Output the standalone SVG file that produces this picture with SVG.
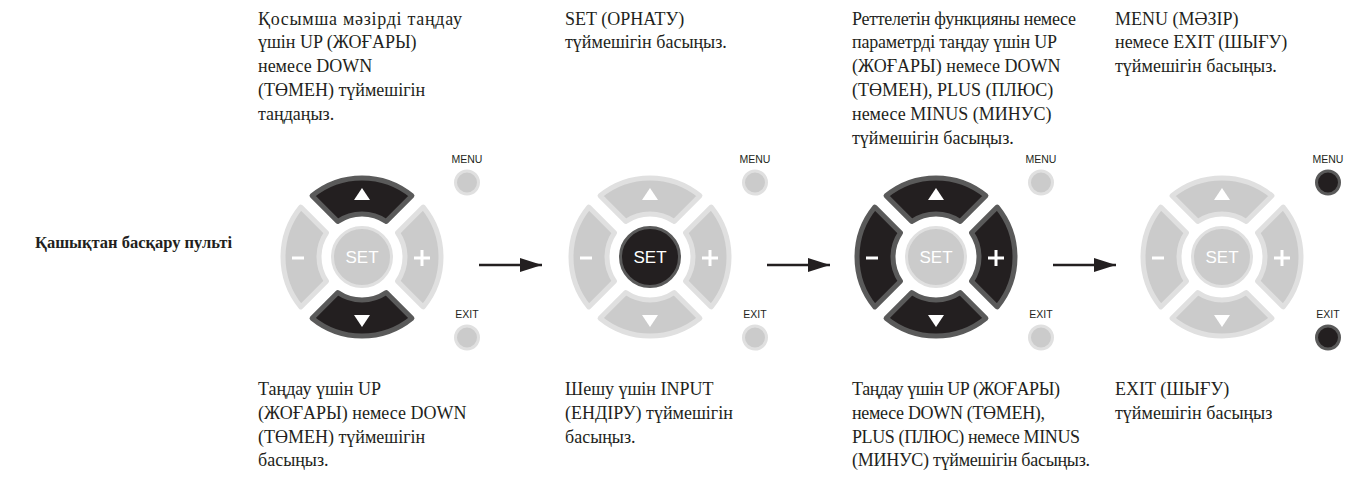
<svg xmlns="http://www.w3.org/2000/svg" xmlns:xlink="http://www.w3.org/1999/xlink" width="1346" height="477" viewBox="0 0 1346 477">
<style>
.txt{font-family:"Liberation Serif","DejaVu Serif",serif;font-size:18px;fill:#231f20}
.lbl{font-family:"Liberation Serif","DejaVu Serif",serif;font-size:16.5px;font-weight:bold;fill:#231f20}
.small{font-family:"Liberation Sans",Arial,sans-serif;font-size:10.5px;fill:#231f20;text-anchor:middle}
.setT{font-family:"Liberation Sans",Arial,sans-serif;font-size:17px;fill:#fff;text-anchor:middle}
.gb{fill:#cbcbcb;stroke:#e0e0e0;stroke-width:5;stroke-linejoin:round}
.bb{fill:#231f20;stroke:#5a5a5a;stroke-width:5;stroke-linejoin:round}
.gs{fill:#cbcbcb;stroke:#e0e0e0;stroke-width:3}
.bs{fill:#231f20;stroke:#5a5a5a;stroke-width:3}
.sym{stroke:#fff;stroke-width:3;fill:none}
.tri{fill:#fff}
.conn{stroke:#231f20;stroke-width:2.6;fill:none;marker-end:url(#ah)}
</style>
<defs>
<path id="pu" d="M-49.92,-61.23A79,79 0 0 1 49.92,-61.23L24.22,-35.53A43,43 0 0 0 -24.22,-35.53Z"/>
<path id="pr" d="M61.23,-49.92A79,79 0 0 1 61.23,49.92L35.53,24.22A43,43 0 0 0 35.53,-24.22Z"/>
<path id="pd" d="M49.92,61.23A79,79 0 0 1 -49.92,61.23L-24.22,35.53A43,43 0 0 0 24.22,35.53Z"/>
<path id="pl" d="M-61.23,49.92A79,79 0 0 1 -61.23,-49.92L-35.53,-24.22A43,43 0 0 0 -35.53,24.22Z"/>
<g id="glyphs">
<polygon class="tri" points="-8,-57 8,-57 0,-69"/>
<polygon class="tri" points="-8,58 8,58 0,70"/>
<path class="sym" d="M52,1H68M60,-7V9"/>
<path class="sym" d="M-70,1H-58"/>
</g>
<marker id="ah" markerUnits="userSpaceOnUse" markerWidth="24" markerHeight="16" refX="22" refY="7" orient="auto">
<polygon points="0,0 22,7 0,14" fill="#231f20"/>
</marker>
</defs>

<g id="label-remote"><text class="lbl" x="232" y="248" text-anchor="end">Қашықтан басқару пульті</text></g>

<g id="remote1" transform="translate(362,257)">
<use xlink:href="#pu" class="bb"/><use xlink:href="#pd" class="bb"/>
<use xlink:href="#pl" class="gb"/><use xlink:href="#pr" class="gb"/>
<circle r="29.5" class="gs"/><text class="setT" x="0" y="6">SET</text>
<use xlink:href="#glyphs"/>
<text class="small" x="105" y="-94">MENU</text><circle cx="105" cy="-74.5" r="11.5" class="gs"/>
<text class="small" x="105" y="61">EXIT</text><circle cx="105" cy="80.5" r="11.5" class="gs"/>
</g>
<g id="remote2" transform="translate(650,257)">
<use xlink:href="#pu" class="gb"/><use xlink:href="#pd" class="gb"/>
<use xlink:href="#pl" class="gb"/><use xlink:href="#pr" class="gb"/>
<circle r="29.5" class="bs"/><text class="setT" x="0" y="6">SET</text>
<use xlink:href="#glyphs"/>
<text class="small" x="105" y="-94">MENU</text><circle cx="105" cy="-74.5" r="11.5" class="gs"/>
<text class="small" x="105" y="61">EXIT</text><circle cx="105" cy="80.5" r="11.5" class="gs"/>
</g>
<g id="remote3" transform="translate(936,257)">
<use xlink:href="#pu" class="bb"/><use xlink:href="#pd" class="bb"/>
<use xlink:href="#pl" class="bb"/><use xlink:href="#pr" class="bb"/>
<circle r="29.5" class="gs"/><text class="setT" x="0" y="6">SET</text>
<use xlink:href="#glyphs"/>
<text class="small" x="105" y="-94">MENU</text><circle cx="105" cy="-74.5" r="11.5" class="gs"/>
<text class="small" x="105" y="61">EXIT</text><circle cx="105" cy="80.5" r="11.5" class="gs"/>
</g>
<g id="remote4" transform="translate(1222,257)">
<use xlink:href="#pu" class="gb"/><use xlink:href="#pd" class="gb"/>
<use xlink:href="#pl" class="gb"/><use xlink:href="#pr" class="gb"/>
<circle r="29.5" class="gs"/><text class="setT" x="0" y="6">SET</text>
<use xlink:href="#glyphs"/>
<text class="small" x="106" y="-94">MENU</text><circle cx="106" cy="-74.5" r="11.5" class="bs"/>
<text class="small" x="106" y="61">EXIT</text><circle cx="106" cy="80.5" r="11.5" class="bs"/>
</g>

<g id="connectors">
<line class="conn" x1="479" y1="265" x2="542" y2="265"/>
<line class="conn" x1="767" y1="265" x2="830" y2="265"/>
<line class="conn" x1="1053" y1="265" x2="1116" y2="265"/>
</g>

<g id="text-top1" class="txt">
<text x="258" y="24.5" textLength="204" lengthAdjust="spacing">Қосымша мәзірді таңдау</text>
<text x="258" y="48.3">үшін UP (ЖОҒАРЫ)</text>
<text x="258" y="72.1">немесе DOWN</text>
<text x="258" y="95.9">(ТӨМЕН) түймешігін</text>
<text x="258" y="119.7">таңдаңыз.</text>
</g>
<g id="text-top2" class="txt">
<text x="565" y="24.5">SET (ОРНАТУ)</text>
<text x="565" y="48.3">түймешігін басыңыз.</text>
</g>
<g id="text-top3" class="txt">
<text x="852" y="24.5" textLength="224" lengthAdjust="spacing">Реттелетін функцияны немесе</text>
<text x="852" y="48.3" textLength="205" lengthAdjust="spacing">параметрді таңдау үшін UP</text>
<text x="852" y="72.1">(ЖОҒАРЫ) немесе DOWN</text>
<text x="852" y="95.9">(ТӨМЕН), PLUS (ПЛЮС)</text>
<text x="852" y="119.7">немесе MINUS (МИНУС)</text>
<text x="852" y="143.5">түймешігін басыңыз.</text>
</g>
<g id="text-top4" class="txt">
<text x="1115" y="24.5">MENU (МӘЗІР)</text>
<text x="1115" y="48.3">немесе EXIT (ШЫҒУ)</text>
<text x="1115" y="72.1">түймешігін басыңыз.</text>
</g>

<g id="text-bot1" class="txt">
<text x="258" y="395">Таңдау үшін UP</text>
<text x="258" y="418.8">(ЖОҒАРЫ) немесе DOWN</text>
<text x="258" y="442.6">(ТӨМЕН) түймешігін</text>
<text x="258" y="466.4">басыңыз.</text>
</g>
<g id="text-bot2" class="txt">
<text x="565" y="395">Шешу үшін INPUT</text>
<text x="565" y="418.8">(ЕНДІРУ) түймешігін</text>
<text x="565" y="442.6">басыңыз.</text>
</g>
<g id="text-bot3" class="txt">
<text x="852" y="395" textLength="208" lengthAdjust="spacing">Таңдау үшін UP (ЖОҒАРЫ)</text>
<text x="852" y="418.8" textLength="193" lengthAdjust="spacing">немесе DOWN (ТӨМЕН),</text>
<text x="852" y="442.6" textLength="228" lengthAdjust="spacing">PLUS (ПЛЮС) немесе MINUS</text>
<text x="852" y="466.4" textLength="238" lengthAdjust="spacing">(МИНУС) түймешігін басыңыз.</text>
</g>
<g id="text-bot4" class="txt">
<text x="1115" y="395">EXIT (ШЫҒУ)</text>
<text x="1115" y="418.8">түймешігін басыңыз</text>
</g>
</svg>
